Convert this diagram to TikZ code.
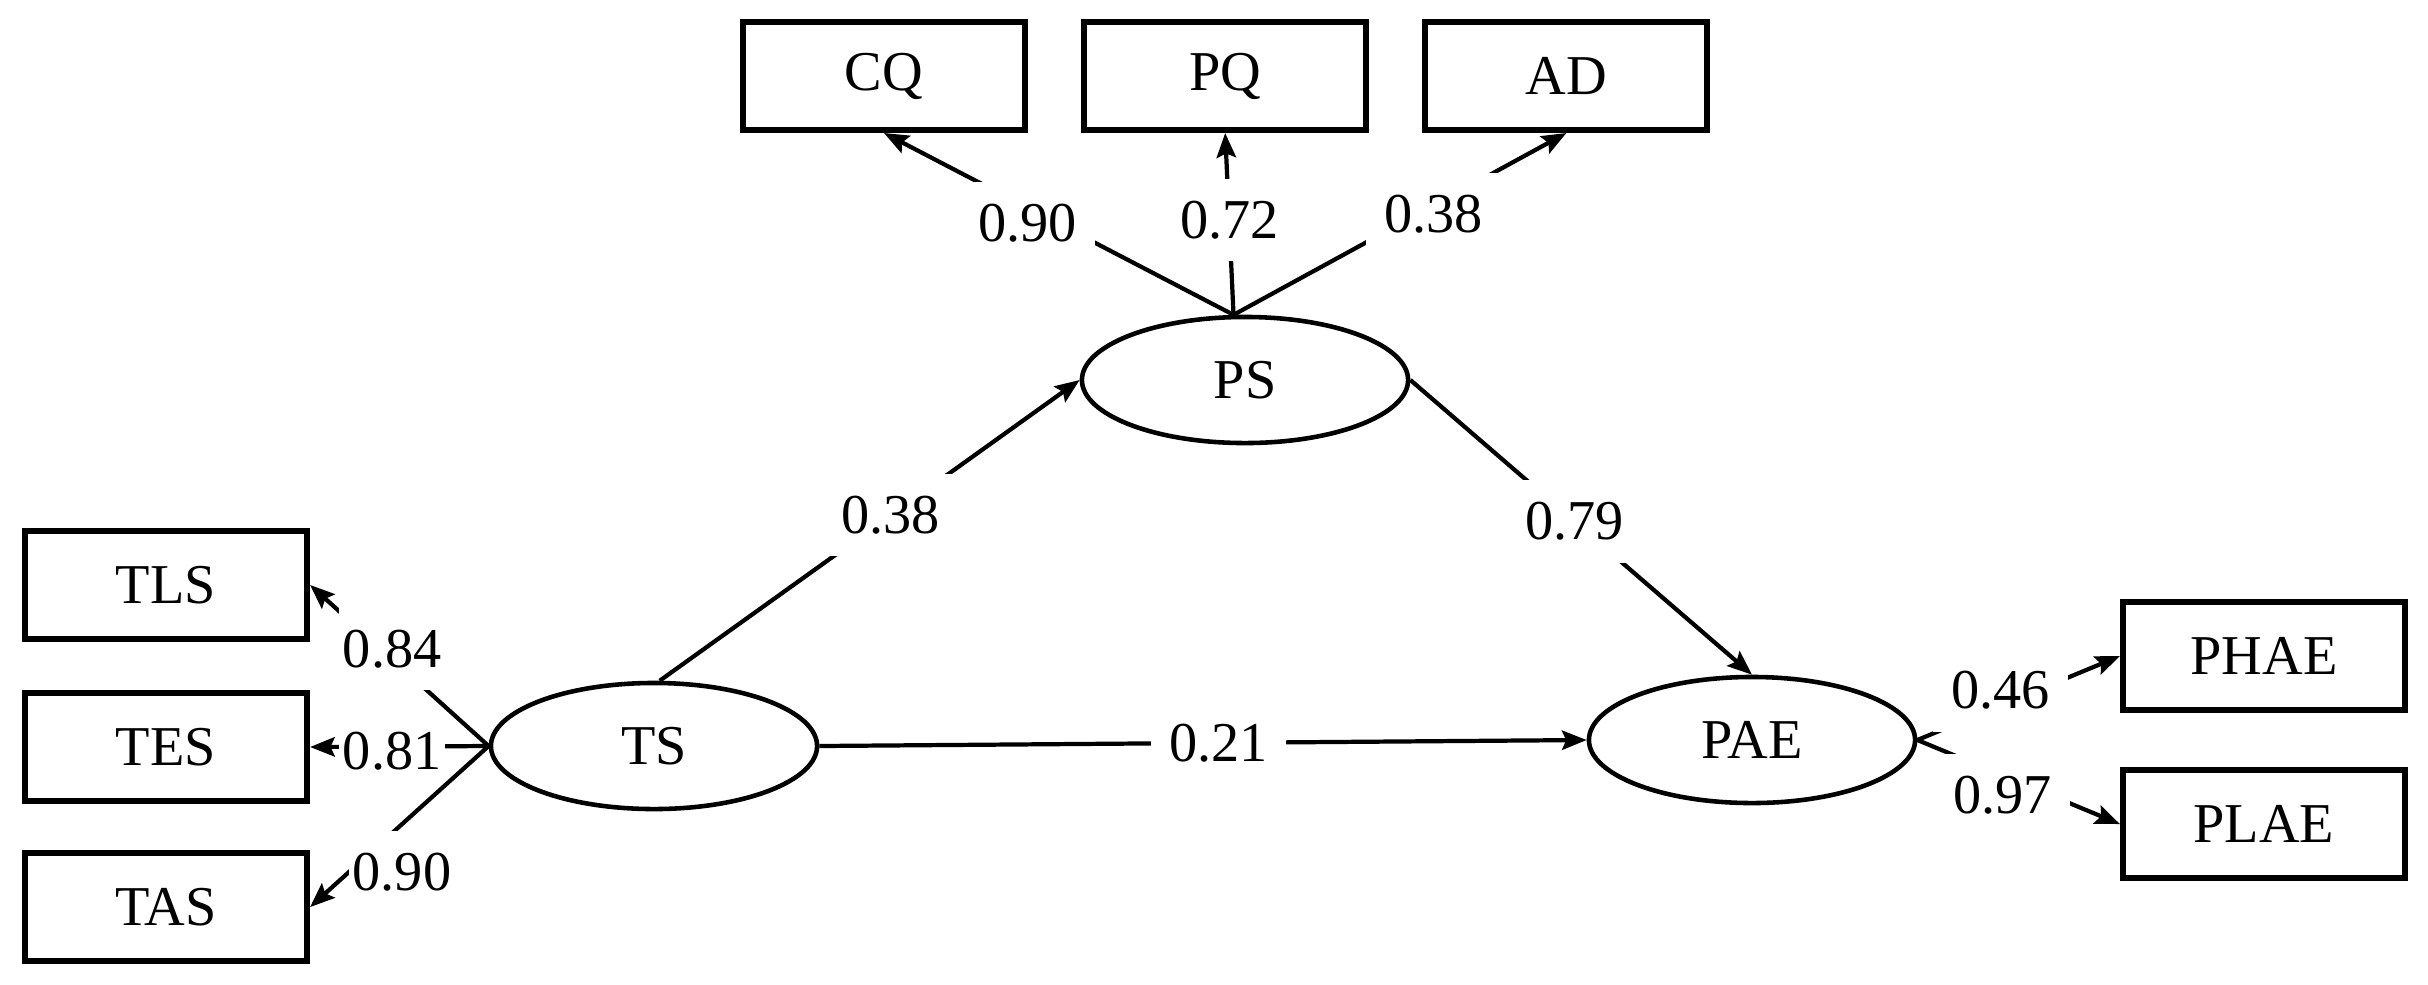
\documentclass[tikz,border=0pt]{standalone}
\usepackage{fontspec}
\setmainfont{Liberation Serif}
\usetikzlibrary{shapes,arrows.meta,positioning}
\tikzstyle{arrow} = [line width=1.2pt,->,>={Stealth[length=7pt,width=5.5pt,inset=1.2pt]}]

\begin{document}
\begin{tikzpicture}[x=0.01cm, y=-0.01cm,
    every node/.style={font=\fontsize{16}{19}\selectfont},
    box/.style={draw, line width=1.7pt, minimum width=2.82cm, minimum height=1.08cm},
    latent/.style={draw, ellipse, line width=1.3pt, minimum width=3.26cm, minimum height=1.26cm, inner sep=0pt},
    coef/.style={fill=white, inner xsep=0.18cm, inner ysep=0.22cm}]

    \useasboundingbox (0,0) rectangle (2428,984);

    % Define latent variables
    \node[latent] (PS) at (1245,380) {PS};
    \node[latent] (TS) at (654,746) {TS};
    \node[latent] (PAE) at (1752,740) {PAE};

    % Define observed variables
    \node[box] (CQ) at (884,76) {CQ};
    \node[box] (PQ) [right=0.53cm of CQ] {PQ};
    \node[box] (AD) [right=0.53cm of PQ] {AD};

    \node[box] (TES) at (166,747) {TES};
    \node[box] (TLS) [above=0.48cm of TES] {TLS};
    \node[box] (TAS) [below=0.46cm of TES] {TAS};

    \node[box] (PHAE) at (2264,656) {PHAE};
    \node[box] (PLAE) [below=0.54cm of PHAE] {PLAE};

    % Structural paths
    \draw[arrow] (TS.85) -- node[coef, pos=0.55] (bTSPS) {0.38} (PS.west);
    \draw[arrow] (PS.east) -- node[coef, pos=0.48] (bPSPAE) {0.79} (PAE.north);
    \draw[arrow] (TS.east) -- node[coef, pos=0.52] (bTSPAE) {0.21} (PAE.west);

    % Loadings
    \foreach \X/\V/\P/\S in {CQ/0.90/0.59/-0.16, PQ/0.72/0.51/0.02, AD/0.38/0.6/-0.08} {
        \draw[arrow] (PS.100) -- node[coef, pos=\P, yshift=\S cm] (l\X) {\V} (\X.south);
    }

    \foreach \X/\V/\P/\A/\B in {TLS/0.84/0.54/0/0.1, TES/0.81/0.54/0/-0.05, TAS/0.90/0.62/0.24/-0.26} {
        \draw[arrow] (TS.west) -- node[coef, inner xsep=0.04cm, pos=\P, xshift=\A cm, yshift=\B cm] (l\X) {\V} (\X.east);
    }

    \foreach \X/\V/\P/\S in {PHAE/0.46/0.41/0.15, PLAE/0.97/0.42/-0.2} {
        \draw[arrow] (PAE.east) -- node[coef, pos=\P, yshift=\S cm] (l\X) {\V} (\X.west);
    }

\end{tikzpicture}
\end{document}
